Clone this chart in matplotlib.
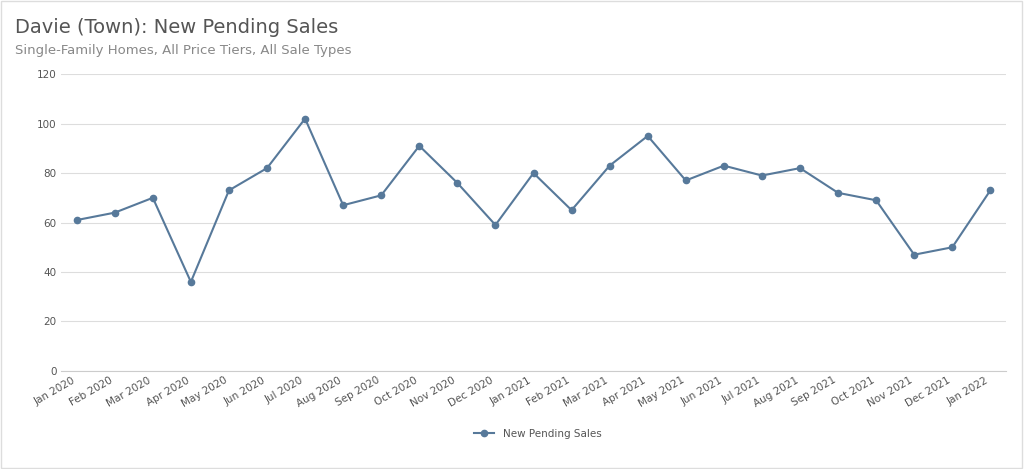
import matplotlib
matplotlib.use("Agg")
import matplotlib.pyplot as plt
from matplotlib.patches import Rectangle

months = ["Jan 2020","Feb 2020","Mar 2020","Apr 2020","May 2020","Jun 2020","Jul 2020","Aug 2020",
          "Sep 2020","Oct 2020","Nov 2020","Dec 2020","Jan 2021","Feb 2021","Mar 2021","Apr 2021",
          "May 2021","Jun 2021","Jul 2021","Aug 2021","Sep 2021","Oct 2021","Nov 2021","Dec 2021","Jan 2022"]
sales = [61,64,70,36,73,82,102,67,71,91,76,59,80,65,83,95,77,83,79,82,72,69,47,50,73]
yticks = [0,20,40,60,80,100,120]

fig = plt.figure(figsize=(10.24,4.69), dpi=100)
fig.patches.append(Rectangle((0.001,0.002),0.997,0.995,transform=fig.transFigure,fill=False,edgecolor="#dddddd",lw=1))
ax = fig.add_axes([0.06,0.209,0.922,0.633])
x = list(range(len(months)))
ax.plot(x, sales, color="#57799a", lw=1.5, marker="o", ms=4.5, label="New Pending Sales")
ax.set_xlim(-0.4, 24.4)
ax.set_ylim(0,120)
ax.set_yticks(yticks)
ax.set_xticks(x)
ax.set_xticklabels(months, rotation=30, ha="right", fontsize=7.5, color="#555555")
ax.tick_params(axis="y", labelsize=7.5, colors="#555555", length=0)
ax.tick_params(axis="x", length=0, pad=3)
ax.grid(axis="y", color="#dddddd", lw=0.8)
for s in ["top","right","left"]:
    ax.spines[s].set_visible(False)
ax.spines["bottom"].set_color("#cccccc")
ax.set_axisbelow(True)
fig.text(0.015,0.93,"Davie (Town): New Pending Sales", fontsize=14, color="#555555")
fig.text(0.015,0.885,"Single-Family Homes, All Price Tiers, All Sale Types", fontsize=9.5, color="#888888")
fig.legend(loc="center", bbox_to_anchor=(0.525,0.075), frameon=False, fontsize=7.5, labelcolor="#555555")
fig.savefig("out.png", dpi=100)
